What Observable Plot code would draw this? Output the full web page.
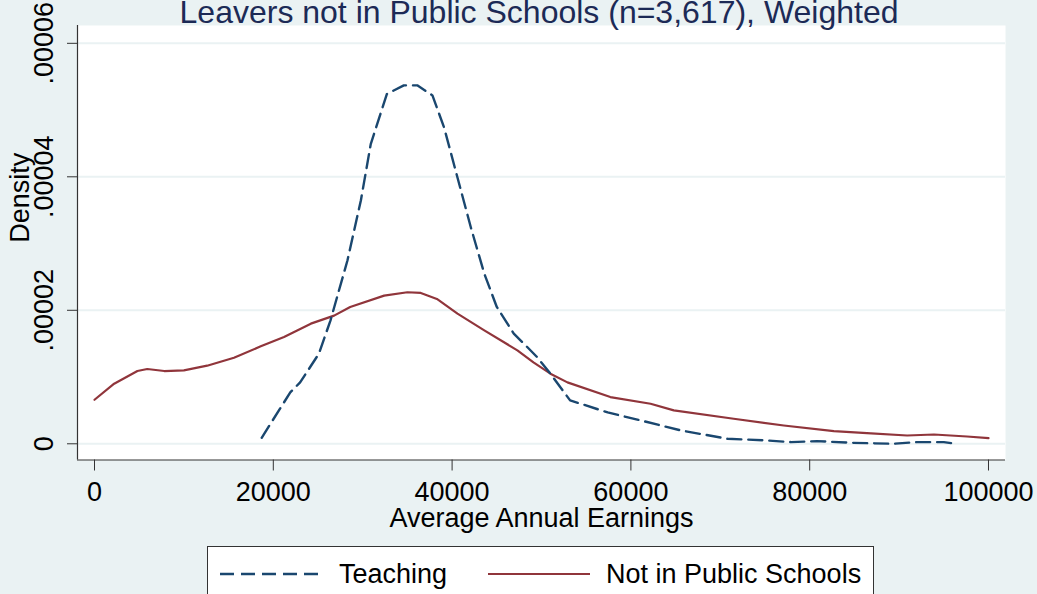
<!DOCTYPE html>
<html>
<head>
<meta charset="utf-8">
<script src="https://cdn.jsdelivr.net/npm/d3@7"></script>
<script src="https://cdn.jsdelivr.net/npm/@observablehq/plot@0.6"></script>
<style>
  html, body { margin: 0; padding: 0; background: #EAF2F3; overflow: hidden; }
  #wrap { position: relative; width: 1037px; height: 594px; overflow: hidden; font-family: "Liberation Sans", Arial, sans-serif; }
  #chart { position: absolute; left: 0; top: 0; }
  #legend { position: absolute; left: 207px; top: 546px; width: 667px; height: 70px; background: #fff; border: 1px solid #333; box-sizing: border-box; }
</style>
</head>
<body>
<div id="wrap">
  <div id="chart"></div>
  <div id="legend"></div>
</div>
<script>
// ---- Data ----
const titleText = "Leavers not in Public Schools (n=3,617), Weighted";
const xLabelText = "Average Annual Earnings";
const yLabelText = "Density";
const seriesNames = ["Teaching", "Not in Public Schools"];

const xTicks = [0, 20000, 40000, 60000, 80000, 100000];
const xTickLabels = ["0", "20000", "40000", "60000", "80000", "100000"];
const yTicks = [0, 0.00002, 0.00004, 0.00006];
const yTickLabels = ["0", ".00002", ".00004", ".00006"];

const teachingX = [18700, 21900, 23000, 25100, 26400, 28300, 29800, 30900, 32700, 34600, 36100, 37800, 39100, 40600, 42100, 43600, 45000, 46900, 48400, 49500, 51000, 53200, 57400, 61100, 65600, 70800, 75200, 77900, 80800, 84600, 89400, 92000, 95000, 96300];
const teachingY = [0.9e-6, 7.7e-6, 9.2e-6, 13.5e-6, 18.5e-6, 27.5e-6, 36.5e-6, 44.9e-6, 52.4e-6, 53.7e-6, 53.7e-6, 52.2e-6, 47.4e-6, 39.9e-6, 32.4e-6, 25.5e-6, 20.5e-6, 16.5e-6, 14.5e-6, 13.0e-6, 10.5e-6, 6.5e-6, 4.7e-6, 3.5e-6, 2.0e-6, 0.75e-6, 0.5e-6, 0.25e-6, 0.4e-6, 0.15e-6, 0, 0.25e-6, 0.25e-6, 0];

const notPublicX = [0, 2200, 4800, 5900, 7800, 10000, 12600, 15600, 18600, 21200, 24200, 26800, 28600, 32400, 35000, 36500, 38300, 40600, 43600, 47300, 49100, 51000, 52900, 57700, 62200, 64800, 71500, 77100, 82700, 86400, 90900, 93900, 97600, 100000];
const notPublicY = [6.6e-6, 9.0e-6, 10.9e-6, 11.2e-6, 10.9e-6, 11.0e-6, 11.7e-6, 12.9e-6, 14.6e-6, 16.0e-6, 18.0e-6, 19.2e-6, 20.5e-6, 22.2e-6, 22.7e-6, 22.6e-6, 21.7e-6, 19.5e-6, 17.0e-6, 14.0e-6, 12.2e-6, 10.5e-6, 9.2e-6, 7.0e-6, 6.0e-6, 5.0e-6, 3.75e-6, 2.74e-6, 1.89e-6, 1.59e-6, 1.24e-6, 1.39e-6, 1.09e-6, 0.84e-6];

// ---- Styling ----
const colTeach = "#1a476f";
const colNot = "#90353b";
const bg = "#EAF2F3";
const axisCol = "#333";
const fs = 27;
const xDomain = [-1902, 101902];
const yDomain = [-2.43e-6, 6.267e-5];

const teaching = teachingX.map((x, i) => ({x, y: teachingY[i]}));
const notPublic = notPublicX.map((x, i) => ({x, y: notPublicY[i]}));

const chart = Plot.plot({
  width: 1037,
  height: 594,
  marginLeft: 77,
  marginRight: 32,
  marginTop: 25,
  marginBottom: 134.5,
  x: {domain: xDomain},
  y: {domain: yDomain},
  style: {background: "transparent", fontFamily: "'Liberation Sans', Arial, sans-serif", fontSize: fs + "px", color: "#000"},
  marks: [
    Plot.frame({fill: "white", stroke: null}),
    Plot.gridY(yTicks, {stroke: bg, strokeOpacity: 1, strokeWidth: 2}),
    Plot.line(notPublic, {x: "x", y: "y", stroke: colNot, strokeWidth: 2.2}),
    Plot.line(teaching, {x: "x", y: "y", stroke: colTeach, strokeWidth: 2.4, strokeDasharray: "14,7"}),
    Plot.ruleX([xDomain[0]], {stroke: axisCol, strokeWidth: 1.2}),
    Plot.ruleY([yDomain[0]], {stroke: axisCol, strokeWidth: 1.2}),
    Plot.axisX({ticks: xTicks, tickFormat: d => xTickLabels[xTicks.indexOf(d)], tickSize: 11, tickPadding: 11, label: null, stroke: axisCol, fontSize: fs}),
    Plot.axisY({ticks: yTicks, tickFormat: d => yTickLabels[yTicks.indexOf(d)], tickSize: 10, tickPadding: 23, tickRotate: -90, textAnchor: "middle", lineAnchor: "middle", label: null, stroke: axisCol, fontSize: fs}),
    Plot.text([yLabelText], {text: d => d, frameAnchor: "left", lineAnchor: "middle", dx: -57, rotate: -90, fontSize: fs, fill: "#000"}),
    Plot.text([xLabelText], {text: d => d, frameAnchor: "bottom", lineAnchor: "middle", dy: 58, fontSize: fs, fill: "#000"}),
    Plot.text([titleText], {text: d => d, frameAnchor: "top", lineAnchor: "middle", dy: -13, dx: -2.5, fontSize: 32, fill: "#1c2a56"})
  ]
});
document.getElementById("chart").append(chart);

// ---- Legend ----
const ns = "http://www.w3.org/2000/svg";
const lsvg = document.createElementNS(ns, "svg");
lsvg.setAttribute("width", 665);
lsvg.setAttribute("height", 68);
lsvg.style.fontFamily = "'Liberation Sans', Arial, sans-serif";
const items = [
  {name: seriesNames[0], color: colTeach, dash: "14,7", x1: 12, x2: 117, tx: 131, w: 2.4},
  {name: seriesNames[1], color: colNot, dash: null, x1: 280, x2: 382, tx: 398, w: 2.2}
];
for (const it of items) {
  const ln = document.createElementNS(ns, "line");
  ln.setAttribute("x1", it.x1); ln.setAttribute("x2", it.x2);
  ln.setAttribute("y1", 27); ln.setAttribute("y2", 27);
  ln.setAttribute("stroke", it.color); ln.setAttribute("stroke-width", it.w);
  if (it.dash) ln.setAttribute("stroke-dasharray", it.dash);
  lsvg.append(ln);
  const t = document.createElementNS(ns, "text");
  t.setAttribute("x", it.tx); t.setAttribute("y", 36);
  t.setAttribute("font-size", fs);
  t.setAttribute("fill", "#000");
  t.textContent = it.name;
  lsvg.append(t);
}
document.getElementById("legend").append(lsvg);
</script>
</body>
</html>
